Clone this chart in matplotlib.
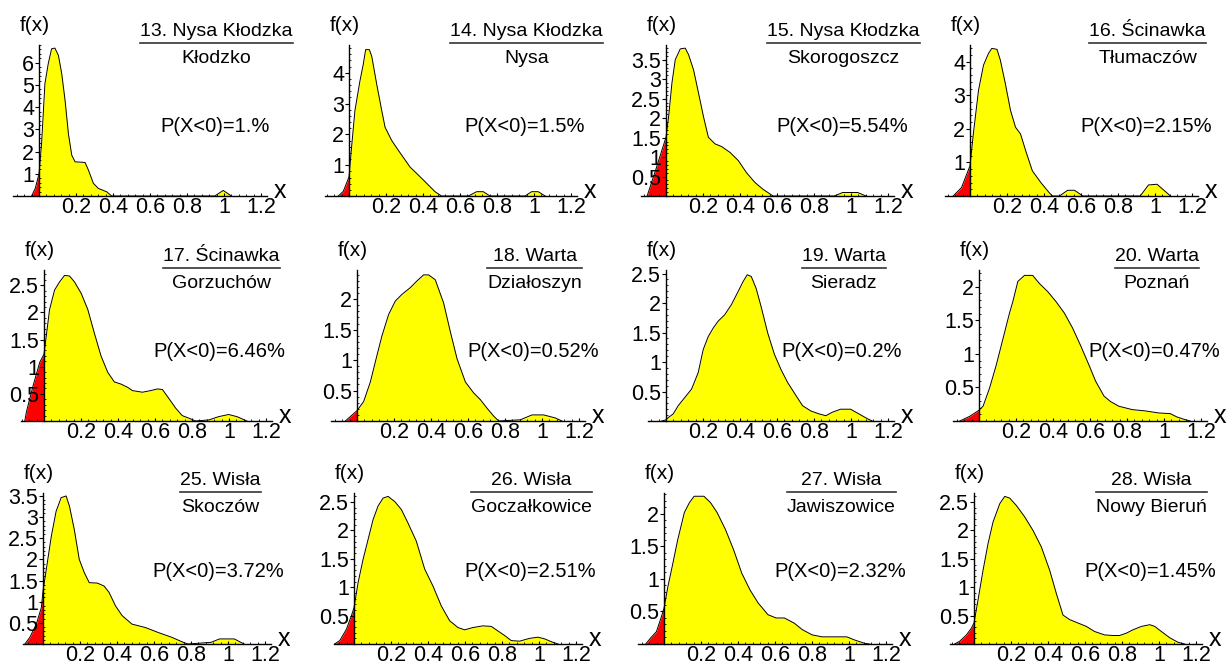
import numpy as np
import matplotlib
matplotlib.use('Agg')
from matplotlib import pyplot as plt
from matplotlib.lines import Line2D
from matplotlib.ticker import MultipleLocator
from matplotlib.transforms import blended_transform_factory

plt.rcParams['font.family'] = ['Liberation Sans', 'DejaVu Sans']

# panel titles (river / gauge) and P(X<0)
rivers = ['13. Nysa Kłodzka', '14. Nysa Kłodzka', '15. Nysa Kłodzka', '16. Ścinawka',
          '17. Ścinawka', '18. Warta', '19. Warta', '20. Warta',
          '25. Wisła', '26. Wisła', '27. Wisła', '28. Wisła']
stations = ['Kłodzko', 'Nysa', 'Skorogoszcz', 'Tłumaczów',
            'Gorzuchów', 'Działoszyn', 'Sieradz', 'Poznań',
            'Skoczów', 'Goczałkowice', 'Jawiszowice', 'Nowy Bieruń']
p_neg = ['1.', '1.5', '5.54', '2.15', '6.46', '0.52', '0.2', '0.47', '3.72', '2.51', '2.32', '1.45']

# density curves
x13 = [-0.04, -0.02, 0, 0.014, 0.032, 0.05, 0.068, 0.086, 0.105, 0.123, 0.141, 0.159, 0.177, 0.195,
       0.249, 0.267, 0.294, 0.321, 0.366, 0.393, 0.95, 0.996, 1.04]
y13 = [0, 0.35, 1.0, 2.37, 5.06, 5.96, 6.63, 6.66, 6.33, 5.5, 4.3, 2.8, 1.84, 1.54,
       1.51, 1.17, 0.57, 0.34, 0.19, 0, 0, 0.25, 0]

x14 = [-0.058, -0.031, 0, 0.014, 0.032, 0.059, 0.077, 0.09, 0.11, 0.123, 0.15, 0.177, 0.195, 0.231,
       0.267, 0.33, 0.402, 0.465, 0.5, 0.645, 0.69, 0.726, 0.762, 0.951, 0.987, 1.023, 1.06]
y14 = [0, 0.15, 0.62, 1.59, 2.77, 3.73, 4.27, 4.75, 4.75, 4.53, 3.62, 2.77, 2.23, 1.8,
       1.48, 0.94, 0.52, 0.14, 0, 0, 0.14, 0.14, 0, 0, 0.14, 0.14, 0]

x15 = [-0.102, -0.057, 0, 0.014, 0.032, 0.05, 0.077, 0.104, 0.122, 0.149, 0.176, 0.203, 0.229, 0.265,
       0.301, 0.346, 0.391, 0.435, 0.48, 0.525, 0.579, 0.91, 0.955, 1.036, 1.081]
y15 = [0, 0.65, 1.51, 2.03, 2.9, 3.5, 3.78, 3.8, 3.63, 3.24, 2.64, 2.03, 1.51, 1.34,
       1.27, 1.12, 0.91, 0.6, 0.35, 0.17, 0, 0, 0.09, 0.09, 0]

x16 = [-0.091, -0.046, 0, 0.018, 0.046, 0.073, 0.1, 0.118, 0.146, 0.164, 0.191, 0.219, 0.246, 0.273,
       0.301, 0.337, 0.383, 0.428, 0.446, 0.483, 0.528, 0.565, 0.61, 0.92, 0.965, 1.011, 1.084]
y16 = [0, 0.25, 0.9, 1.85, 3.15, 3.9, 4.25, 4.4, 4.37, 4.05, 3.35, 2.55, 2.05, 1.85,
       1.35, 0.75, 0.4, 0.1, 0, 0, 0.17, 0.17, 0, 0, 0.33, 0.35, 0]

x17 = [-0.104, -0.095, -0.059, -0.023, 0, 0.03, 0.057, 0.084, 0.111, 0.138, 0.165, 0.201, 0.237, 0.272,
       0.308, 0.344, 0.38, 0.416, 0.452, 0.478, 0.532, 0.577, 0.613, 0.64, 0.676, 0.711, 0.747, 0.792,
       0.819, 0.891, 0.944, 0.998, 1.043, 1.097]
y17 = [0, 0.17, 0.65, 1.08, 1.23, 2.05, 2.41, 2.56, 2.68, 2.67, 2.56, 2.35, 2.05, 1.62,
       1.2, 0.9, 0.72, 0.68, 0.62, 0.56, 0.53, 0.56, 0.59, 0.58, 0.41, 0.24, 0.1, 0.04,
       0, 0.02, 0.08, 0.12, 0.08, 0]

x18 = [-0.063, 0, 0.036, 0.072, 0.108, 0.135, 0.171, 0.207, 0.243, 0.288, 0.324, 0.36, 0.387, 0.423,
       0.468, 0.505, 0.541, 0.586, 0.631, 0.667, 0.703, 0.739, 0.766, 0.883, 0.946, 1.009, 1.072, 1.108]
y18 = [0, 0.17, 0.32, 0.64, 1.08, 1.4, 1.75, 1.97, 2.08, 2.19, 2.3, 2.4, 2.4, 2.32,
       1.94, 1.46, 1.02, 0.64, 0.46, 0.35, 0.21, 0.08, 0, 0.02, 0.1, 0.1, 0.05, 0]

x19 = [-0.023, 0, 0.013, 0.039, 0.066, 0.102, 0.138, 0.174, 0.201, 0.228, 0.254, 0.281, 0.317, 0.353,
       0.389, 0.416, 0.439, 0.461, 0.487, 0.514, 0.55, 0.586, 0.622, 0.658, 0.703, 0.738, 0.783, 0.828,
       0.864, 0.9, 0.944, 0.998, 1.043, 1.088, 1.115]
y19 = [0, 0.02, 0.06, 0.12, 0.26, 0.4, 0.54, 0.82, 1.21, 1.43, 1.57, 1.69, 1.8, 1.97,
       2.19, 2.36, 2.48, 2.45, 2.25, 1.94, 1.49, 1.13, 0.87, 0.65, 0.43, 0.26, 0.17, 0.12,
       0.09, 0.15, 0.2, 0.2, 0.12, 0.04, 0]

x20 = [-0.104, -0.05, 0, 0.022, 0.057, 0.093, 0.129, 0.165, 0.183, 0.21, 0.246, 0.29, 0.326, 0.371,
       0.416, 0.461, 0.505, 0.55, 0.595, 0.631, 0.676, 0.711, 0.756, 0.828, 0.9, 0.971, 1.034, 1.07,
       1.115, 1.142]
y20 = [0, 0.07, 0.16, 0.22, 0.49, 0.83, 1.22, 1.61, 1.78, 2.08, 2.17, 2.17, 2.05, 1.93,
       1.78, 1.61, 1.39, 1.12, 0.83, 0.59, 0.37, 0.29, 0.22, 0.17, 0.15, 0.12, 0.11, 0.06,
       0.02, 0]

x25 = [-0.098, -0.071, -0.036, -0.009, 0, 0.018, 0.045, 0.071, 0.098, 0.125, 0.143, 0.169, 0.196, 0.223,
       0.25, 0.294, 0.33, 0.357, 0.392, 0.428, 0.481, 0.553, 0.624, 0.695, 0.758, 0.784, 0.909, 0.954,
       1.034, 1.087]
y25 = [0, 0.16, 0.47, 0.86, 1.25, 1.77, 2.55, 3.14, 3.46, 3.5, 3.26, 2.71, 2.0, 1.69,
       1.45, 1.44, 1.37, 1.22, 0.9, 0.67, 0.47, 0.39, 0.27, 0.16, 0.04, 0, 0.04, 0.12,
       0.12, 0]

x26 = [-0.105, -0.077, -0.041, -0.014, 0, 0.022, 0.049, 0.076, 0.103, 0.13, 0.157, 0.184, 0.22, 0.256,
       0.292, 0.337, 0.382, 0.427, 0.472, 0.517, 0.562, 0.598, 0.643, 0.697, 0.742, 0.778, 0.814, 0.85,
       0.895, 0.95, 0.995, 1.031, 1.067, 1.103]
y26 = [0, 0.06, 0.26, 0.5, 0.64, 1.08, 1.49, 1.84, 2.19, 2.43, 2.57, 2.6, 2.51, 2.37,
       2.13, 1.81, 1.32, 1.02, 0.67, 0.41, 0.29, 0.25, 0.29, 0.32, 0.31, 0.23, 0.15, 0.06,
       0.05, 0.1, 0.12, 0.09, 0.04, 0]

x27 = [-0.099, -0.067, -0.041, -0.014, 0, 0.021, 0.048, 0.074, 0.11, 0.137, 0.163, 0.216, 0.252, 0.287,
       0.332, 0.376, 0.42, 0.465, 0.509, 0.562, 0.606, 0.651, 0.704, 0.748, 0.801, 0.855, 0.943, 0.988,
       1.032, 1.085, 1.112]
y27 = [0, 0.11, 0.19, 0.42, 0.55, 0.88, 1.24, 1.6, 2.02, 2.17, 2.27, 2.27, 2.17, 2.02,
       1.76, 1.45, 1.09, 0.83, 0.63, 0.45, 0.4, 0.4, 0.32, 0.22, 0.14, 0.11, 0.11, 0.11,
       0.06, 0.01, 0]

x28 = [-0.105, -0.077, -0.041, -0.014, 0, 0.022, 0.049, 0.076, 0.103, 0.139, 0.166, 0.193, 0.229, 0.274,
       0.319, 0.364, 0.409, 0.445, 0.481, 0.517, 0.562, 0.607, 0.652, 0.706, 0.751, 0.787, 0.823, 0.859,
       0.905, 0.95, 0.977, 1.013, 1.058, 1.103, 1.139]
y28 = [0, 0.05, 0.16, 0.28, 0.37, 0.78, 1.3, 1.77, 2.15, 2.47, 2.6, 2.57, 2.44, 2.24,
       2.0, 1.71, 1.3, 0.89, 0.51, 0.43, 0.37, 0.31, 0.22, 0.16, 0.15, 0.15, 0.19, 0.25,
       0.31, 0.34, 0.31, 0.22, 0.11, 0.03, 0]

xs = [x13, x14, x15, x16, x17, x18, x19, x20, x25, x26, x27, x28]
ys = [y13, y14, y15, y16, y17, y18, y19, y20, y25, y26, y27, y28]

# y tick values and axis tops
yticks = [[1, 2, 3, 4, 5, 6], [1, 2, 3, 4], [0.5, 1, 1.5, 2, 2.5, 3, 3.5], [1, 2, 3, 4],
          [0.5, 1, 1.5, 2, 2.5], [0.5, 1, 1.5, 2], [0.5, 1, 1.5, 2, 2.5], [0.5, 1, 1.5, 2],
          [0.5, 1, 1.5, 2, 2.5, 3, 3.5], [0.5, 1, 1.5, 2, 2.5], [0.5, 1, 1.5, 2], [0.5, 1, 1.5, 2, 2.5]]
ytop = [6.8, 4.9, 3.88, 4.5, 2.78, 2.48, 2.56, 2.25, 3.57, 2.66, 2.32, 2.66]
xmins = [-0.14, -0.13, -0.135, -0.135, -0.125, -0.14, -0.1, -0.14, -0.11, -0.11, -0.14, -0.13]
xticks = [0.2, 0.4, 0.6, 0.8, 1, 1.2]

# layout in pixels: where the axes cross
W, H = 1227, 670
ox = [39, 349, 666, 970, 44, 357, 666, 979, 43, 354, 664, 974]
oy = [196, 421, 644]
ppu = 185.0   # pixels per x unit
axh = 151.0
xmax = 1.23

fig = plt.figure(figsize=(W / 100, H / 100), dpi=100)
fig.patch.set_facecolor('white')

texts = []
for i in range(12):
    row = i // 4
    xmin = xmins[i]
    left = ox[i] + xmin * ppu
    ax = fig.add_axes([left / W, (H - oy[row]) / H, (xmax - xmin) * ppu / W, axh / H])
    ax.set_facecolor('none')

    x = np.asarray(xs[i], float)
    y = np.asarray(ys[i], float)
    y0 = np.interp(0, x, y)
    xn = np.r_[x[x < 0], 0]
    yn = np.r_[y[x < 0], y0]
    xp = np.r_[0, x[x > 0]]
    yp = np.r_[y0, y[x > 0]]
    ax.fill_between(xn, 0, yn, color='#ff0000', lw=0)
    ax.fill_between(xp, 0, yp, color='#ffff00', lw=0)
    ax.plot(x, y, color='black', lw=0.7)

    ax.set_xlim(xmin, xmax)
    ax.set_ylim(0, ytop[i])
    for s in ['top', 'right']:
        ax.spines[s].set_visible(False)
    ax.spines['left'].set_position(('data', 0))
    ax.spines['bottom'].set_position(('data', 0))
    ax.spines['left'].set_linewidth(1.0)
    ax.spines['bottom'].set_linewidth(1.0)

    ax.set_xticks(xticks)
    ax.set_xticklabels([f'{v:g}' for v in xticks])
    ax.set_yticks(yticks[i])
    ax.set_yticklabels([f'{v:g}' for v in yticks[i]])
    step = yticks[i][1] - yticks[i][0]
    ax.yaxis.set_minor_locator(MultipleLocator(step / 5))
    ax.xaxis.set_minor_locator(MultipleLocator(0.04))
    ax.tick_params(axis='y', which='major', labelsize=15.5, length=3, width=0.8, pad=0.5, direction='out')
    ax.tick_params(axis='x', which='major', labelsize=15.5, length=2.5, width=0.8, pad=1, direction='in')
    ax.tick_params(axis='both', which='minor', length=1.5, width=0.6, direction='in')

    trans = blended_transform_factory(ax.transData, ax.transAxes)
    dy = 0.0 if row < 2 else -0.005
    t1 = ax.text(0.96, 1.09 + dy, rivers[i], transform=trans, ha='center', va='center', fontsize=14)
    t2 = ax.text(0.96, 0.91 + dy, stations[i], transform=trans, ha='center', va='center', fontsize=14)
    ax.text(-0.02, 1.13, 'f(x)', transform=trans, ha='center', va='center', fontsize=15)
    ax.text(1.3, 0.03, 'x', transform=trans, ha='center', va='center', fontsize=18)
    ax.text(0.95, 0.46 if row < 2 else 0.48, 'P(X<0)=' + p_neg[i] + '%', transform=trans,
            ha='center', va='center', fontsize=14.5)
    texts.append((trans, t1, t2, 1.013 + dy))

# fraction bars under the river names
fig.canvas.draw()
r = fig.canvas.get_renderer()
inv = fig.transFigure.inverted()
for trans, t1, t2, ly in texts:
    w = max(t1.get_window_extent(r).width, t2.get_window_extent(r).width)
    cx, cy = trans.transform((0.96, ly))
    p1 = inv.transform((cx - w / 2, cy))
    p2 = inv.transform((cx + w / 2, cy))
    fig.add_artist(Line2D([p1[0], p2[0]], [p1[1], p2[1]], transform=fig.transFigure,
                          color='#333333', lw=1.2))

fig.savefig('out.png', dpi=100)
